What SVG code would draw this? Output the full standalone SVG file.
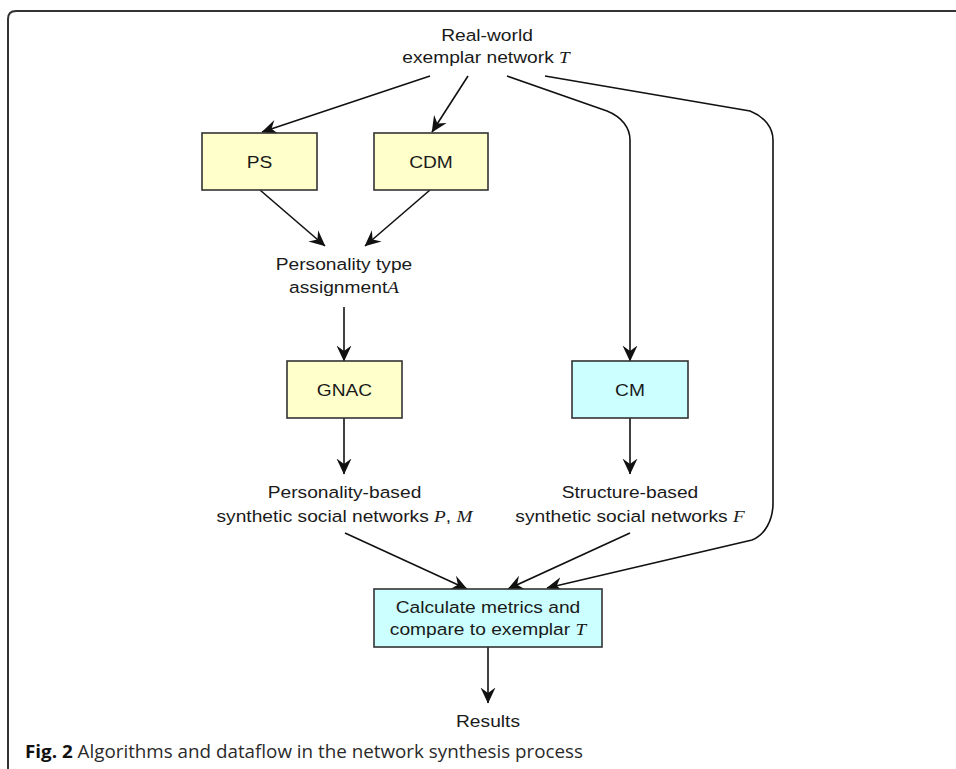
<svg xmlns="http://www.w3.org/2000/svg" width="956" height="769" viewBox="0 0 956 769">
<defs>
<style>
.t{font-family:"Liberation Sans",Arial,sans-serif;font-size:17px;fill:#1a1a1a;text-anchor:middle}
.m{font-family:"Liberation Serif","Times New Roman",serif;font-style:italic}
.by{fill:#ffffcc;stroke:#333;stroke-width:1.6}
.bc{fill:#ccffff;stroke:#333;stroke-width:1.6}
.c{fill:none;stroke:#111;stroke-width:1.6}
.a{marker-end:url(#ah)}
.cap{font-family:"Open Sans","Noto Sans",sans-serif;font-size:18.5px;fill:#2a2a2a}
</style>
<marker id="ah" viewBox="0 0 16 16" refX="15.5" refY="8" markerWidth="16" markerHeight="16" markerUnits="userSpaceOnUse" orient="auto">
<path d="M0,0.5 L16,8 L0,15.5 L5.5,8 z" fill="#111"/>
</marker>
</defs>
<rect width="956" height="769" fill="#fff"/>
<path d="M956,11 L16,11 Q8,11 8,19 L8,769" fill="none" stroke="#333" stroke-width="2"/>

<g id="connectors">
<path class="c a" d="M430,76 L262,132"/>
<path class="c a" d="M468,76 L432,132"/>
<path class="c a" d="M507,76 L607,111 C622,117 630,128 630,140 L630,361"/>
<path class="c a" d="M545,76 L750,111 C765,117 773,128 773,140 L773,503 C773,520 765,535 752,540 L547,588"/>
<path class="c a" d="M260,190 L325,246"/>
<path class="c a" d="M430,190 L365,246"/>
<path class="c a" d="M344,307 L344,361"/>
<path class="c a" d="M344,418 L344,474"/>
<path class="c a" d="M630,418 L630,474"/>
<path class="c a" d="M345,533 L467,589"/>
<path class="c a" d="M630,533 L508,589"/>
<path class="c a" d="M488,647 L488,703"/>
</g>

<g id="exemplar">
<text class="t" transform="translate(487,41) scale(1.13,1)">Real-world</text>
<text class="t" transform="translate(486,63) scale(1.13,1)">exemplar network <tspan class="m">T</tspan></text>
</g>
<g id="ps">
<rect class="by" x="202" y="133" width="115" height="57"/>
<text class="t" transform="translate(259.5,167.5) scale(1.13,1)">PS</text>
</g>
<g id="cdm">
<rect class="by" x="374" y="133" width="114" height="57"/>
<text class="t" transform="translate(431,167.5) scale(1.13,1)">CDM</text>
</g>
<g id="assignment">
<text class="t" transform="translate(344,270) scale(1.13,1)">Personality type</text>
<text class="t" transform="translate(344,293) scale(1.13,1)">assignment<tspan class="m">A</tspan></text>
</g>
<g id="gnac">
<rect class="by" x="287" y="361" width="115" height="57"/>
<text class="t" transform="translate(344.5,395.5) scale(1.13,1)">GNAC</text>
</g>
<g id="cm">
<rect class="bc" x="572" y="361" width="116" height="57"/>
<text class="t" transform="translate(630,395.5) scale(1.13,1)">CM</text>
</g>
<g id="personality-networks">
<text class="t" transform="translate(344.5,498) scale(1.13,1)">Personality-based</text>
<text class="t" transform="translate(344.5,522) scale(1.13,1)">synthetic social networks <tspan class="m">P</tspan>, <tspan class="m">M</tspan></text>
</g>
<g id="structure-networks">
<text class="t" transform="translate(630,498) scale(1.13,1)">Structure-based</text>
<text class="t" transform="translate(630,522) scale(1.13,1)">synthetic social networks <tspan class="m">F</tspan></text>
</g>
<g id="calculate">
<rect class="bc" x="374" y="589" width="228" height="58"/>
<text class="t" transform="translate(488,613) scale(1.13,1)">Calculate metrics and</text>
<text class="t" transform="translate(488,635) scale(1.13,1)">compare to exemplar <tspan class="m">T</tspan></text>
</g>
<g id="results">
<text class="t" transform="translate(488,727) scale(1.13,1)">Results</text>
</g>
<text class="cap" x="25" y="758" textLength="558" lengthAdjust="spacingAndGlyphs"><tspan font-weight="bold" fill="#111">Fig. 2</tspan> Algorithms and dataflow in the network synthesis process</text>
</svg>
